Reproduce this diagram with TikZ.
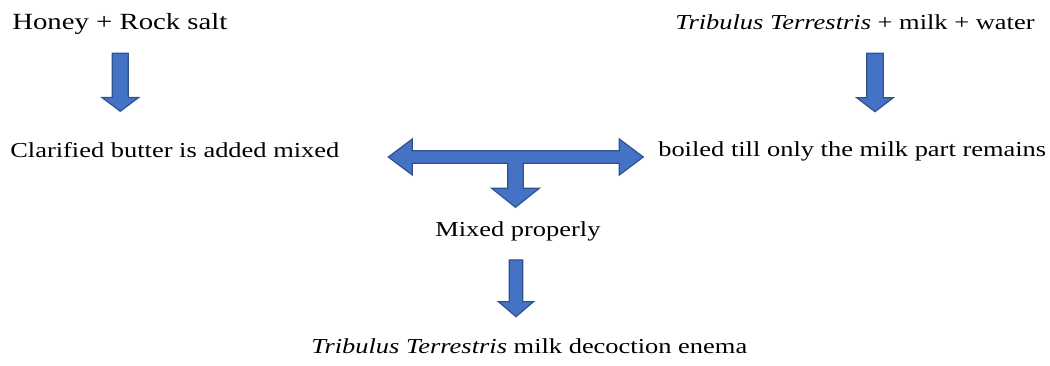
\documentclass[tikz,border=0pt]{standalone}
\usepackage{fontspec}
\setmainfont{Liberation Serif}
\usetikzlibrary{positioning}
\definecolor{ArrowBlue}{RGB}{68,114,196}
\definecolor{ArrowEdge}{RGB}{47,82,143}
\newcommand{\wtxt}[1]{\scalebox{1.24}[1]{#1}}
\tikzset{
  blockarr/.style={fill=ArrowBlue, draw=ArrowEdge, line width=0.9pt, line join=miter},
  lbl/.style={font=\fontsize{16}{19}\selectfont, anchor=base west, inner sep=0pt},
}

\begin{document}
\begin{tikzpicture}[x=0.75pt, y=-0.75pt]
  \useasboundingbox (0,0) rectangle (1050,366);
  % texts
  \node[lbl, font=\fontsize{17.4}{20}\selectfont] (honey) at (12,30) {\wtxt{Honey + Rock salt}};
  \node[lbl] (tribmix) at (675,30) {\wtxt{\textit{Tribulus Terrestris} + milk + water}};
  \node[lbl] (butter) at (10,158) {\wtxt{Clarified butter is added mixed}};
  \node[lbl] (boiled) at (658,157) {\wtxt{boiled till only the milk part remains}};
  \node[lbl] (mixed) at (435,237) {\wtxt{Mixed properly}};
  \node[lbl] (enema) at (311,354) {\wtxt{\textit{Tribulus Terrestris} milk decoction enema}};
  % block arrows
  \coordinate (a1) at (120.3,53.3);
  \coordinate (a2) at (875,53.3);
  \coordinate (a3) at (516,260);
  \coordinate (t0) at (388.3,157);
  \draw[blockarr] (a1) ++(-8,0) -- ++(16,0) -- ++(0,44.2) -- ++(10.3,0)
        -- ++(-18.3,13.8) -- ++(-18.3,-13.8) -- ++(10.3,0) -- cycle;
  \draw[blockarr] (a2) ++(-8.3,0) -- ++(16.6,0) -- ++(0,44.4) -- ++(10,0)
        -- ++(-18.3,14) -- ++(-18.3,-14) -- ++(10,0) -- cycle;
  \draw[blockarr] (t0) -- ++(24,-18) -- ++(0,11.7) -- ++(207,0) -- ++(0,-11.7)
        -- ++(24,18) -- ++(-24,18) -- ++(0,-11.7) -- ++(-96,0) -- ++(0,25)
        -- ++(16,0) -- ++(-23.8,19) -- ++(-23.8,-19) -- ++(16,0) -- ++(0,-25)
        -- ++(-95.4,0) -- ++(0,11.7) -- cycle;
  \draw[blockarr] (a3) ++(-6.7,0) -- ++(13.4,0) -- ++(0,41.7) -- ++(10.8,0)
        -- ++(-17.5,15) -- ++(-17.5,-15) -- ++(10.8,0) -- cycle;
\end{tikzpicture}
\end{document}
